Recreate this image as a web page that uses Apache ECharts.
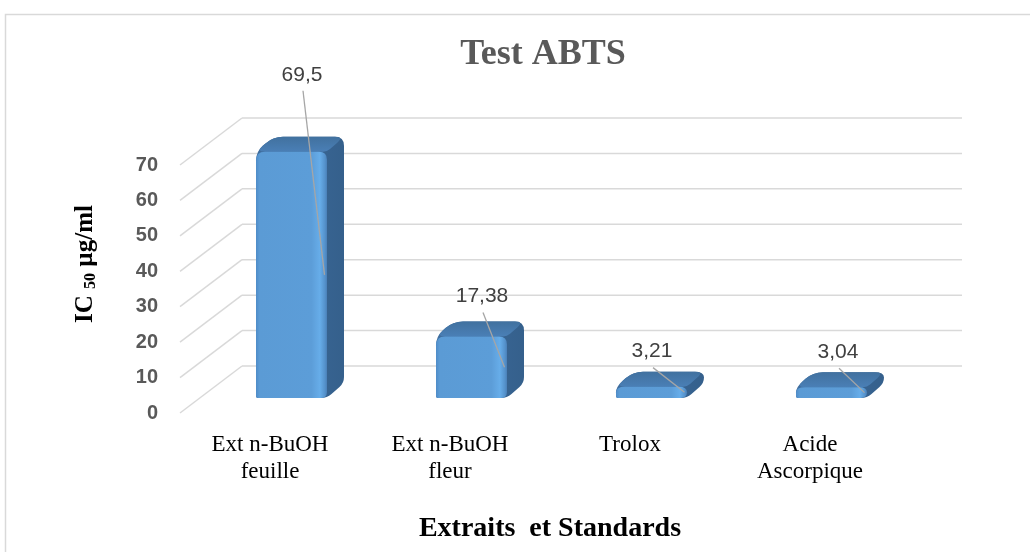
<!DOCTYPE html>
<html>
<head>
<meta charset="utf-8">
<script src="https://cdn.jsdelivr.net/npm/echarts@6/dist/echarts.min.js"></script>
<style>
  html, body { margin: 0; padding: 0; background: #ffffff; }
  #chart { width: 1030px; height: 552px; }
</style>
</head>
<body>
<div id="chart"></div>
<script>
// IC50 (µg/ml) of the extracts and reference standards, ABTS assay
const categories = ['Ext n-BuOH\nfeuille', 'Ext n-BuOH\nfleur', 'Trolox', 'Acide\nAscorpique'];
const ic50Values = [69.5, 17.38, 3.21, 3.04];
const yTicks = [0, 10, 20, 30, 40, 50, 60, 70];

// pseudo-3D layout (pixels)
const WALL_DEPTH = [62, -47];      // floor depth vector from front plane to back wall
const BAR_SHIFT = [21.5, -15];     // bars stand part-way into the floor
const BAR_DEPTH = [17, -15];       // thickness of each box
const BAR_HALF = 35.5;             // half width of the front face
const LABEL_OFFSET = [[10.5, -77], [10.5, -40], [0.5, -35], [6.5, -35]];

const fmt = v => String(v).replace('.', ',');

function towards(p, q, r) {
  const dx = q[0] - p[0], dy = q[1] - p[1];
  const L = Math.hypot(dx, dy) || 1;
  const t = Math.min(r, L / 2) / L;
  return [p[0] + dx * t, p[1] + dy * t];
}
// closed outline with softened corners (radius per vertex)
function roundedPath(pts, radii) {
  const n = pts.length;
  let d = '';
  for (let i = 0; i < n; i++) {
    const p0 = pts[(i - 1 + n) % n], p1 = pts[i], p2 = pts[(i + 1) % n];
    const a = towards(p1, p0, radii[i]), b = towards(p1, p2, radii[i]);
    d += (i === 0 ? 'M' : 'L') + a[0].toFixed(2) + ' ' + a[1].toFixed(2) +
      'Q' + p1[0].toFixed(2) + ' ' + p1[1].toFixed(2) + ' ' + b[0].toFixed(2) + ' ' + b[1].toFixed(2);
  }
  return d + 'Z';
}

const chart = echarts.init(document.getElementById('chart'), null, { renderer: 'canvas' });

const option = {
  backgroundColor: '#ffffff',
  animation: false,
  grid: { left: 180, right: 130, top: 165, bottom: 139, containLabel: false },
  xAxis: {
    type: 'category',
    data: categories,
    axisLine: { show: false },
    axisTick: { show: false },
    splitLine: { show: false },
    axisLabel: {
      interval: 0,
      margin: 18,
      color: '#000000',
      fontFamily: 'Liberation Serif',
      fontSize: 23,
      lineHeight: 27,
      align: 'center'
    }
  },
  yAxis: {
    type: 'value',
    min: 0,
    max: 70,
    interval: 10,
    axisLine: { show: false },
    axisTick: { show: false },
    splitLine: { show: false },
    axisLabel: {
      margin: 22,
      color: '#595959',
      fontFamily: 'Liberation Sans',
      fontWeight: 'bold',
      fontSize: 20
    }
  },
  graphic: [
    {
      type: 'rect',
      shape: { x: 5.5, y: 14.5, width: 1100, height: 600 },
      style: { fill: 'none', stroke: '#d9d9d9', lineWidth: 1.5 },
      silent: true, z: -10
    },
    {
      type: 'text', x: 543, y: 55,
      style: {
        text: 'Test ABTS', fill: '#595959',
        fontFamily: 'Liberation Serif', fontWeight: 'bold', fontSize: 36,
        align: 'center', verticalAlign: 'middle',
        textAlign: 'center', textVerticalAlign: 'middle'
      }
    },
    {
      type: 'text', x: 550, y: 529,
      style: {
        text: 'Extraits  et Standards', fill: '#000000',
        fontFamily: 'Liberation Serif', fontWeight: 'bold', fontSize: 28,
        align: 'center', verticalAlign: 'middle',
        textAlign: 'center', textVerticalAlign: 'middle'
      }
    },
    {
      type: 'text', x: 86, y: 264, rotation: Math.PI / 2,
      style: {
        text: '{m|IC }{s|50}{m| µg/ml}',
        align: 'center', verticalAlign: 'middle',
        textAlign: 'center', textVerticalAlign: 'middle',
        rich: {
          m: { fontFamily: 'Liberation Serif', fontWeight: 'bold', fontSize: 25, fill: '#000000', color: '#000000' },
          s: { fontFamily: 'Liberation Serif', fontWeight: 'bold', fontSize: 16, fill: '#000000', color: '#000000', verticalAlign: 'bottom' }
        }
      }
    }
  ],
  series: [
    {
      // floor/back-wall gridlines, one per tick value
      type: 'custom',
      silent: true,
      z: 1,
      data: yTicks.map(t => [0, t]),
      encode: { x: 0, y: 1 },
      renderItem: function (params, api) {
        const cs = params.coordSys;
        const y = api.coord([0, api.value(1)])[1];
        const x0 = cs.x, x1 = cs.x + cs.width;
        const bx = x0 + WALL_DEPTH[0], by = y + WALL_DEPTH[1];
        const st = { stroke: '#d9d9d9', lineWidth: 1.5, fill: 'none' };
        return {
          type: 'group',
          children: [
            { type: 'line', shape: { x1: x0, y1: y, x2: bx, y2: by }, style: st },
            { type: 'line', shape: { x1: bx, y1: by, x2: x1 + WALL_DEPTH[0], y2: by }, style: st }
          ]
        };
      }
    },
    {
      // bevelled boxes with their value labels and leader lines
      type: 'custom',
      z: 5,
      data: ic50Values.map((v, i) => [i, v]),
      encode: { x: 0, y: 1 },
      renderItem: function (params, api) {
        const i = params.dataIndex;
        const v = api.value(1);
        const base = api.coord([api.value(0), 0]);
        const top = api.coord([api.value(0), v]);
        const mid = api.coord([api.value(0), v / 2]);
        const cx = base[0] + BAR_SHIFT[0];
        const yb = base[1] + BAR_SHIFT[1];
        const yt = top[1] + BAR_SHIFT[1];
        const dx = BAR_DEPTH[0], dy = BAR_DEPTH[1];
        const L = cx - BAR_HALF, R = cx + BAR_HALF;

        const FL = [L, yb], TL = [L, yt], TR = [R, yt], FR = [R, yb];
        const BTL = [L + dx, yt + dy], BTR = [R + dx, yt + dy], BBR = [R + dx, yb + dy];

        const silhouette = roundedPath([FL, TL, BTL, BTR, BBR, FR], [2, 9, 10, 9, 6, 6]);
        const topFace = roundedPath([TL, BTL, BTR, TR], [9, 10, 9, 4]);
        const frontFace = roundedPath([FL, TL, TR, FR], [2, 9, 8, 6]);

        const lo = LABEL_OFFSET[i];
        const lx = cx + lo[0], ly = yt + lo[1];

        return {
          type: 'group',
          children: [
            {
              type: 'path', shape: { pathData: silhouette },
              style: {
                fill: new echarts.graphic.LinearGradient(0, 0, 1, 0, [
                  { offset: 0, color: '#3f6e9f' },
                  { offset: 1, color: '#35608c' }
                ])
              }
            },
            {
              type: 'path', shape: { pathData: topFace },
              style: {
                fill: new echarts.graphic.LinearGradient(0, 0, 0, 1, [
                  { offset: 0, color: '#41719f' },
                  { offset: 1, color: '#4a7fb6' }
                ])
              }
            },
            {
              type: 'path', shape: { pathData: frontFace },
              style: {
                fill: new echarts.graphic.LinearGradient(0, 0, 1, 0, [
                  { offset: 0, color: '#4f8cc8' },
                  { offset: 0.05, color: '#5b9bd5' },
                  { offset: 0.78, color: '#5c9dd8' },
                  { offset: 0.9, color: '#67ade9' },
                  { offset: 0.97, color: '#5592cc' },
                  { offset: 1, color: '#4a80b8' }
                ])
              }
            },
            {
              type: 'line',
              shape: { x1: lx + 1, y1: ly + 16, x2: cx + 33, y2: mid[1] + BAR_SHIFT[1] },
              style: { stroke: '#a6a6a6', lineWidth: 1.3 }
            },
            {
              type: 'text', x: lx, y: ly,
              style: {
                text: fmt(v), fill: '#404040',
                fontFamily: 'Liberation Sans', fontSize: 21,
                align: 'center', verticalAlign: 'middle',
                textAlign: 'center', textVerticalAlign: 'middle'
              }
            }
          ]
        };
      }
    }
  ]
};

chart.setOption(option);
</script>
</body>
</html>
